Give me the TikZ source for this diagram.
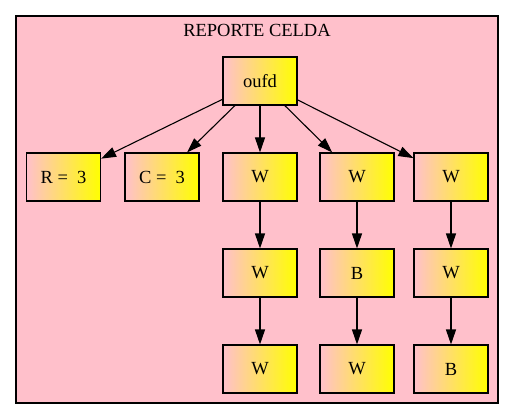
\documentclass[tikz,border=0pt]{standalone}
\usepackage{fontspec}
\setmainfont{Liberation Serif}
\usetikzlibrary{arrows.meta}

\definecolor{clusterpink}{RGB}{255,192,203}
\definecolor{boxpink}{RGB}{255,192,203}

\begin{document}
\begin{tikzpicture}[
    x=1pt,
    y=-1pt,
    cluster/.style={draw=black, line width=1.1pt, fill=clusterpink},
    cell/.style={draw=black, line width=1.1pt, left color=boxpink, right color=yellow,
                 minimum width=74pt, minimum height=48pt, inner sep=0pt,
                 font=\fontsize{18.5}{22}\selectfont},
    edge/.style={black, line width=1.1pt, -{Triangle[length=15pt, width=10pt]}}
]

% =========================================================
% PARAMETRI
% =========================================================

% Colonne
\def\xA{63.5}
\def\xB{162}
\def\xC{260}
\def\xD{357}
\def\xE{451}

% Righe
\def\yA{81}
\def\yB{177}
\def\yC{273}
\def\yD{369}

\useasboundingbox (0,0) rectangle (515,420);

% =========================================================
% CLUSTER
% =========================================================

\draw[cluster] (16,16) rectangle (498,403);
\node[font=\fontsize{18.5}{22}\selectfont] (titolo) at (257,30) {REPORTE CELDA};

% =========================================================
% NODI
% =========================================================

% Radice
\node[cell] (radice) at (\xC,\yA) {oufd};

% Seconda riga
\node[cell] (fila)   at (\xA,\yB) {R =\ \ 3};
\node[cell] (colon)  at (\xB,\yB) {C =\ \ 3};
\node[cell] (celA)   at (\xC,\yB) {W};
\node[cell] (celB)   at (\xD,\yB) {W};
\node[cell] (celC)   at (\xE,\yB) {W};

% Terza riga
\node[cell] (celAA)  at (\xC,\yC) {W};
\node[cell] (celBA)  at (\xD,\yC) {B};
\node[cell] (celCA)  at (\xE,\yC) {W};

% Quarta riga
\node[cell] (celAB)  at (\xC,\yD) {W};
\node[cell] (celBB)  at (\xD,\yD) {W};
\node[cell] (celCB)  at (\xE,\yD) {B};

% =========================================================
% ARCHI
% =========================================================

\draw[edge] (radice) -- (fila);
\draw[edge] (radice) -- (colon);
\draw[edge] (radice) -- (celA);
\draw[edge] (radice) -- (celB);
\draw[edge] (radice) -- (celC);

\draw[edge] (celA) -- (celAA);
\draw[edge] (celAA) -- (celAB);
\draw[edge] (celB) -- (celBA);
\draw[edge] (celBA) -- (celBB);
\draw[edge] (celC) -- (celCA);
\draw[edge] (celCA) -- (celCB);

\end{tikzpicture}
\end{document}
